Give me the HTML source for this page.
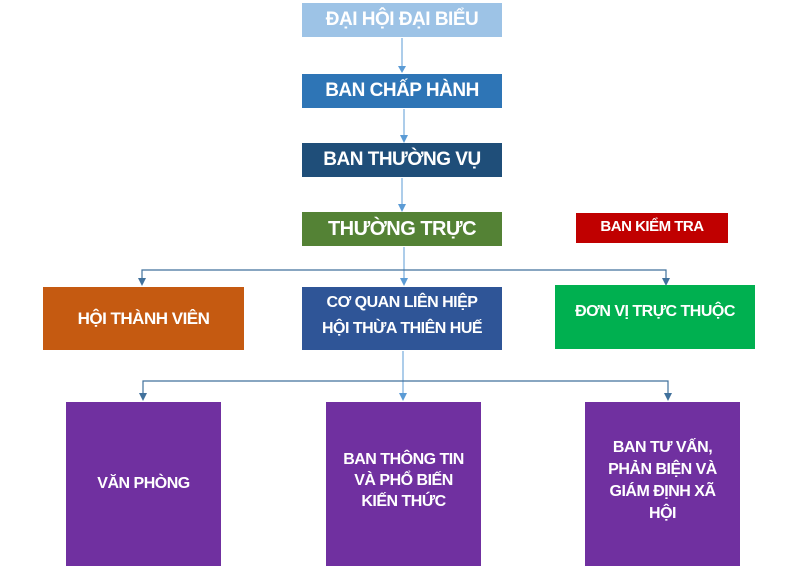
<!DOCTYPE html>
<html><head><meta charset="utf-8"><style>
body{margin:0;width:802px;height:570px;background:#fff;position:relative;overflow:hidden;font-family:"Liberation Sans",Arial,sans-serif;}
.b{position:absolute;color:#fff;font-weight:bold;display:flex;align-items:center;justify-content:center;text-align:center;}
svg{position:absolute;left:0;top:0}
</style></head><body>
<svg width="802" height="570">
<g stroke="#5b9bd5" stroke-width="1" fill="none">
<line x1="402" y1="38" x2="402" y2="68"/>
<line x1="404" y1="109" x2="404" y2="137"/>
<line x1="402" y1="178" x2="402" y2="206"/>
<line x1="404" y1="247" x2="404" y2="280"/>
<line x1="403" y1="351" x2="403" y2="395"/>
</g>
<g stroke="#41719c" stroke-width="1.2" fill="none">
<polyline points="142,280 142,270 666,270 666,280"/>
<polyline points="143,395 143,381 668,381 668,395"/>
</g>
<g fill="#5b9bd5">
<path d="M398,66 L406,66 L402,73 Z"/>
<path d="M400,135 L408,135 L404,143 Z"/>
<path d="M398,204 L406,204 L402,212 Z"/>
<path d="M400,278 L408,278 L404,286 Z"/>
<path d="M399,393 L407,393 L403,401 Z"/>
</g>
<g fill="#41719c">
<path d="M138,278 L146,278 L142,286 Z"/>
<path d="M662,278 L670,278 L666,286 Z"/>
<path d="M139,393 L147,393 L143,401 Z"/>
<path d="M664,393 L672,393 L668,401 Z"/>
</g>
</svg>
<div class="b" style="left:302px;top:3px;width:200px;height:34px;background:#9dc3e6;font-size:19px;letter-spacing:-0.5px;">ĐẠI HỘI ĐẠI BIỂU</div>
<div class="b" style="left:302px;top:74px;width:200px;height:34px;background:#2e75b6;font-size:19px;letter-spacing:-0.5px;">BAN CHẤP HÀNH</div>
<div class="b" style="left:302px;top:143px;width:200px;height:34px;background:#1f4e79;font-size:19px;letter-spacing:-0.5px;">BAN THƯỜNG VỤ</div>
<div class="b" style="left:302px;top:212px;width:200px;height:34px;background:#548235;font-size:20px;letter-spacing:-0.5px;">THƯỜNG TRỰC</div>
<div class="b" style="left:576px;top:213px;width:152px;height:30px;background:#c00000;font-size:15px;letter-spacing:-0.5px;padding-bottom:4px;box-sizing:border-box;">BAN KIỂM TRA</div>
<div class="b" style="left:43px;top:287px;width:201px;height:63px;background:#c55a11;font-size:17px;letter-spacing:-0.5px;">HỘI THÀNH VIÊN</div>
<div class="b" style="left:302px;top:287px;width:200px;height:63px;background:#2f5597;font-size:16px;line-height:26px;letter-spacing:-0.5px;padding-bottom:6px;box-sizing:border-box;">CƠ QUAN LIÊN HIỆP<br>HỘI THỪA THIÊN HUẾ</div>
<div class="b" style="left:555px;top:285px;width:200px;height:64px;background:#00b050;font-size:16px;letter-spacing:-0.5px;padding-bottom:10px;box-sizing:border-box;">ĐƠN VỊ TRỰC THUỘC</div>
<div class="b" style="left:66px;top:402px;width:155px;height:164px;background:#7030a0;font-size:16px;letter-spacing:-0.5px;">VĂN PHÒNG</div>
<div class="b" style="left:326px;top:402px;width:155px;height:164px;background:#7030a0;font-size:16px;line-height:21px;letter-spacing:-0.5px;padding-bottom:8px;box-sizing:border-box;">BAN THÔNG TIN<br>VÀ PHỔ BIẾN<br>KIẾN THỨC</div>
<div class="b" style="left:585px;top:402px;width:155px;height:164px;background:#7030a0;font-size:16px;line-height:22px;letter-spacing:-0.5px;padding-bottom:6px;box-sizing:border-box;">BAN TƯ VẤN,<br>PHẢN BIỆN VÀ<br>GIÁM ĐỊNH XÃ<br>HỘI</div>
</body></html>
